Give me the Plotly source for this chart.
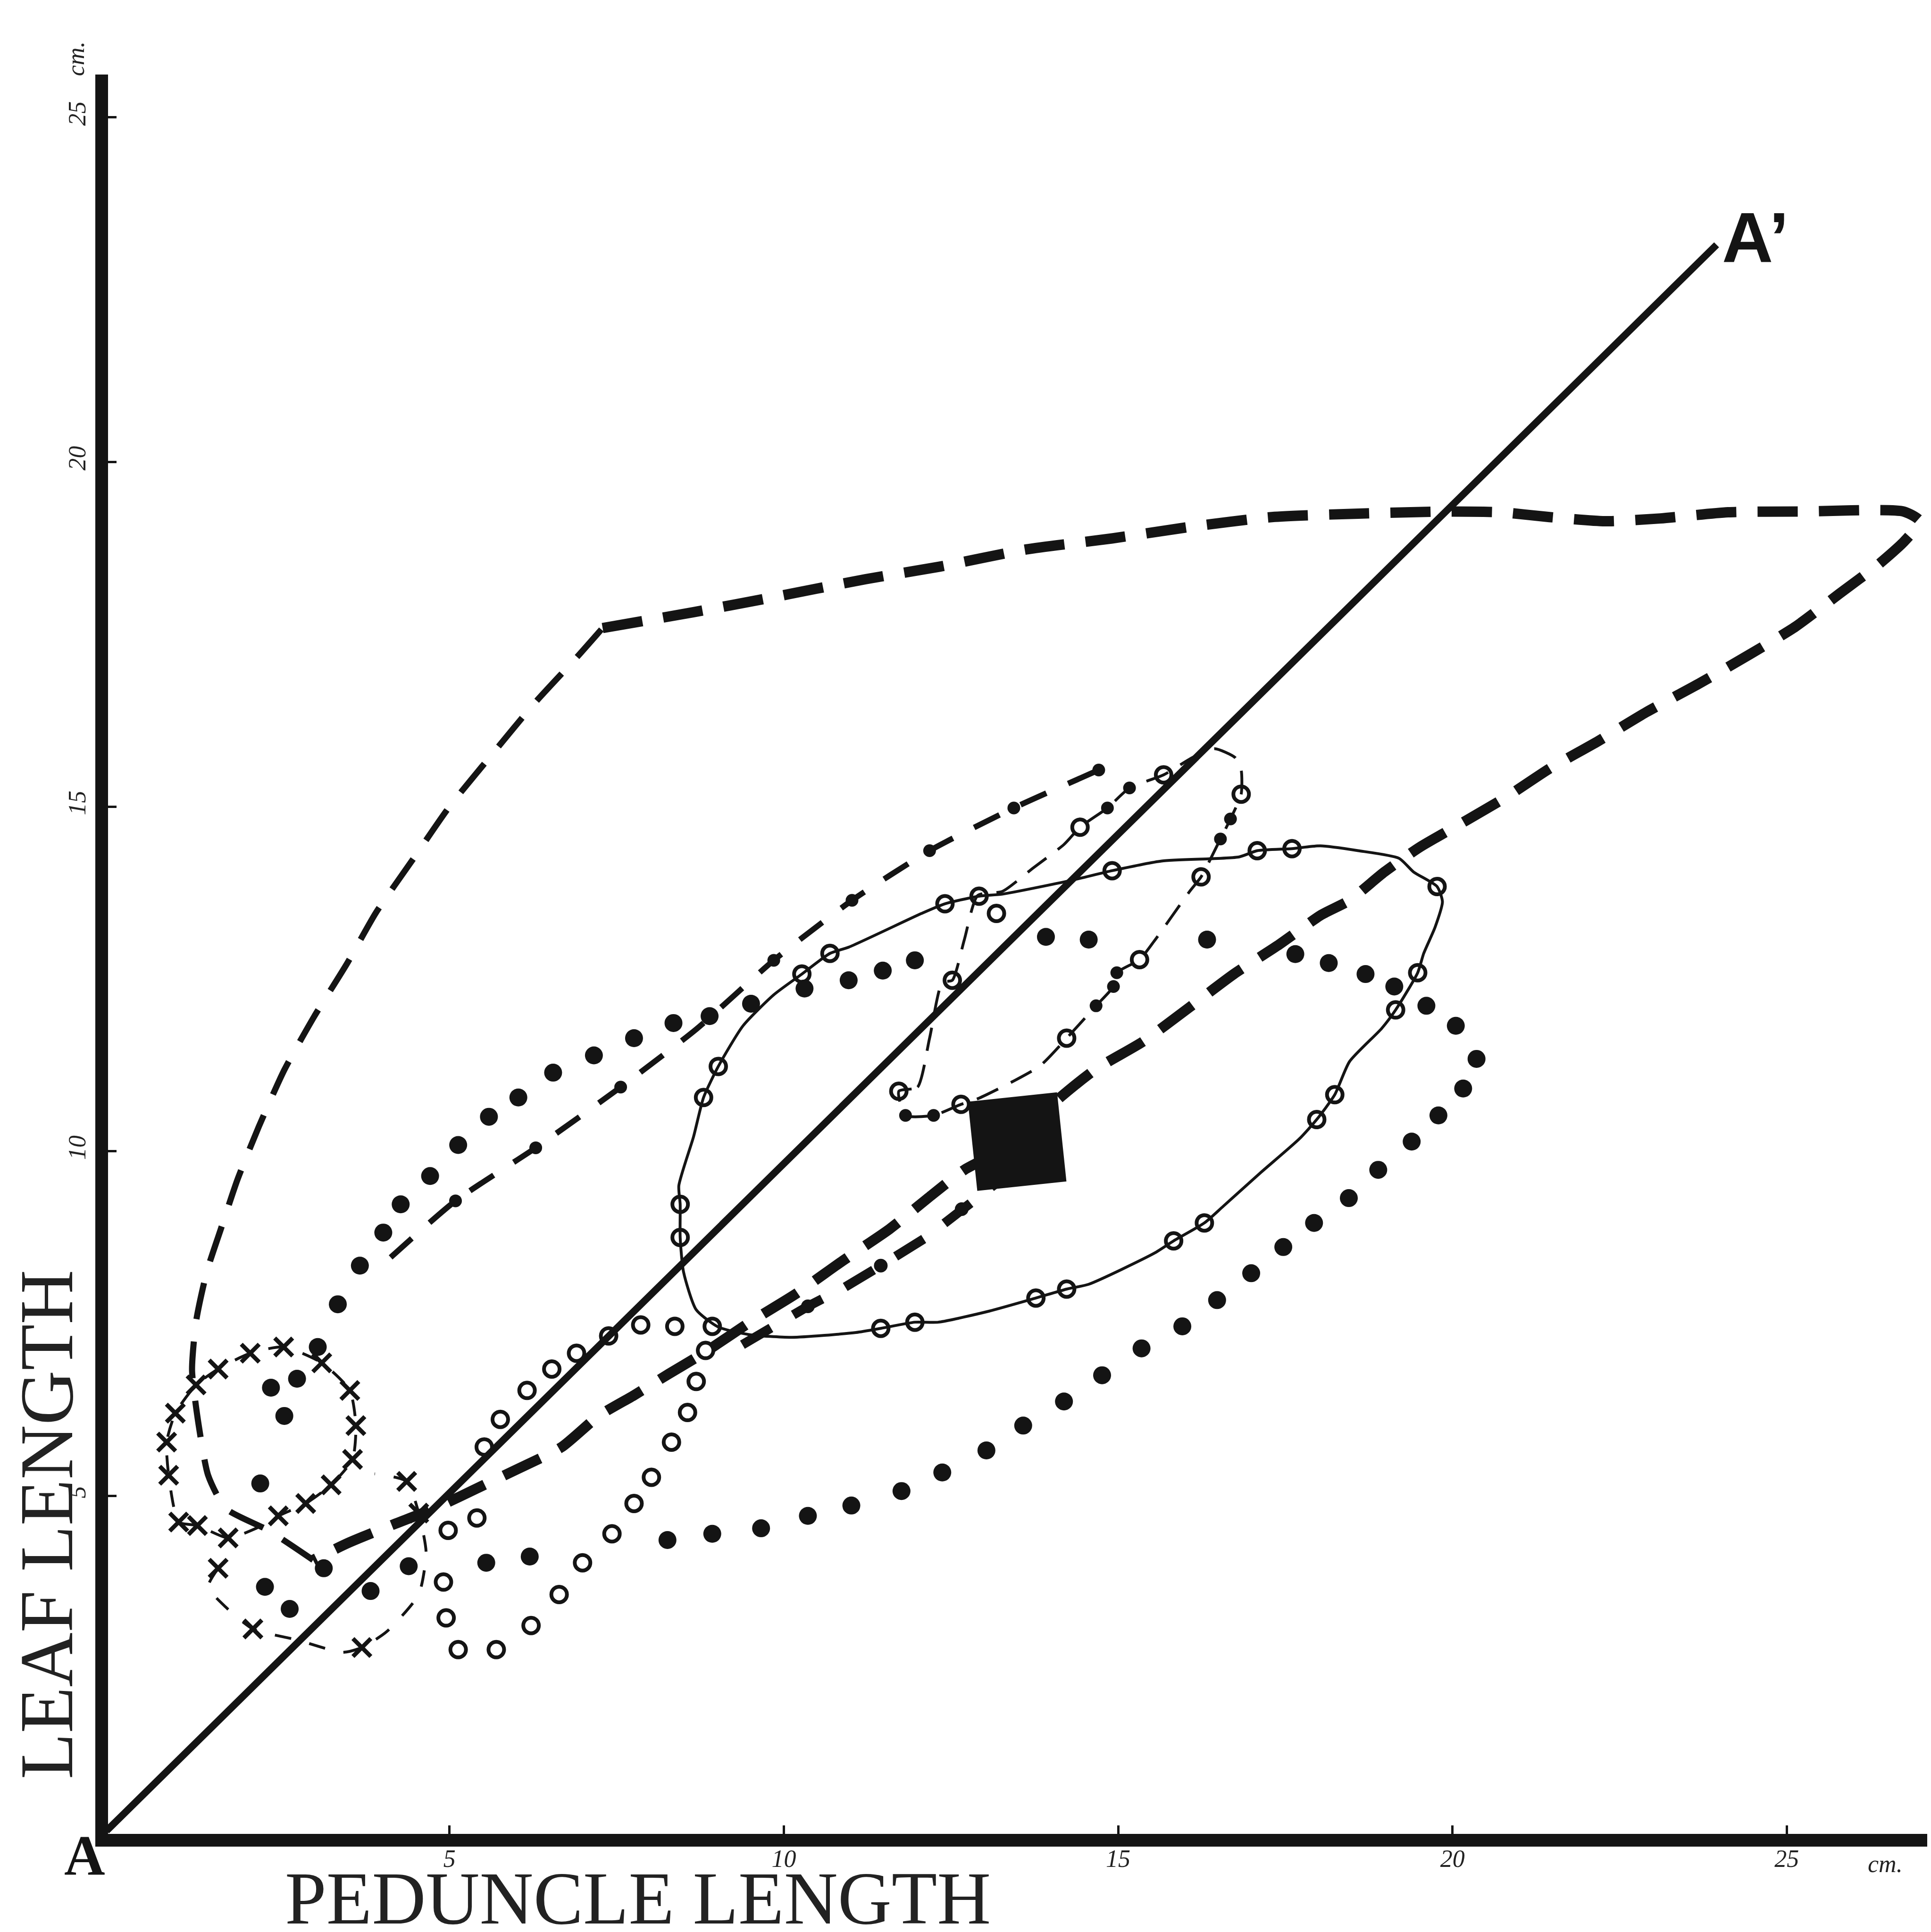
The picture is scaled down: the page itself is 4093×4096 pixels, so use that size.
import plotly.graph_objects as go

# ---------------- axis ticks ----------------
x_tick_vals = [5, 10, 15, 20, 25]
x_tick_text = ["5", "10", "15", "20", "25"]
y_tick_vals = [5, 10, 15, 20, 25]
y_tick_text = ["5", "10", "15", "20", "25"]

# ---------------- reference line A - A' ----------------
aa_x = [-0.13, 23.95]
aa_y = [0.14, 23.15]

# ---------------- outer long-dash loop ----------------
outer_thin_x = [2.96, 2.29, 1.65, 1.39, 1.25, 1.15, 1.21, 1.37, 1.58, 1.83, 2.15, 2.53, 2.98,
                3.46, 3.90, 4.45, 5.00, 5.63, 6.29, 6.88, 7.29]
outer_thin_y = [4.07, 4.50, 4.82, 5.30, 6.02, 6.82, 7.53, 8.25, 8.87, 9.59, 10.36, 11.18, 11.96,
                12.71, 13.46, 14.23, 15.00, 15.75, 16.52, 17.14, 17.59]

outer_heavy_x = [7.29, 8.65, 9.75, 11.23, 12.33, 13.62, 14.91, 16.02, 17.30, 18.59, 19.88, 20.71,
                 21.45, 22.28, 23.11, 24.12, 25.22, 26.75, 26.99, 26.75, 26.38, 25.79, 25.13, 24.45,
                 23.68, 22.90, 22.18, 21.45, 20.84, 20.21, 19.51, 18.98, 18.46, 18.04, 17.38, 16.73,
                 16.07, 15.37, 14.65, 13.99, 13.49, 12.70, 12.22, 11.58, 10.88, 10.18, 9.51, 8.83,
                 8.28, 7.76, 7.23, 6.68, 6.02, 5.52, 4.78, 4.12, 3.49, 2.96]
outer_heavy_y = [17.59, 17.82, 18.02, 18.30, 18.48, 18.73, 18.89, 19.05, 19.20, 19.25, 19.28, 19.27,
                 19.20, 19.14, 19.18, 19.27, 19.28, 19.28, 19.14, 18.84, 18.52, 18.09, 17.61, 17.21,
                 16.78, 16.37, 15.95, 15.55, 15.16, 14.80, 14.41, 14.05, 13.64, 13.43, 12.98, 12.57,
                 12.09, 11.59, 11.18, 10.66, 10.14, 9.73, 9.37, 8.87, 8.41, 7.93, 7.53, 7.09,
                 6.77, 6.46, 6.16, 5.71, 5.39, 5.16, 4.82, 4.57, 4.32, 4.07]

# mean square
square_x = [13.49]
square_y = [10.14]

# ---------------- large-dot loop ----------------
dots_x = [3.33, 3.66, 4.01, 4.27, 4.71, 5.13, 5.59, 6.03, 6.55, 7.16, 7.76, 8.35, 8.89, 9.51,
          10.31, 10.97, 11.48, 11.96, 13.92, 14.56, 16.33, 17.65, 18.15, 18.70, 19.13, 19.61,
          20.05, 20.36, 20.16, 19.79, 19.39, 18.89, 18.45, 17.93, 17.47, 16.99, 16.48, 15.96,
          15.35, 14.76, 14.19, 13.58, 13.03, 12.37, 11.76, 11.01, 10.36, 9.66, 8.93, 8.26,
          6.20, 5.55, 4.39, 3.82, 3.12, 2.61, 2.24, 2.17, 2.53, 2.33, 2.72, 3.03]
dots_y = [7.78, 8.34, 8.82, 9.23, 9.64, 10.09, 10.50, 10.78, 11.14, 11.39, 11.64, 11.86, 11.96, 12.14,
          12.36, 12.48, 12.62, 12.77, 13.11, 13.07, 13.07, 12.86, 12.73, 12.57, 12.39, 12.11,
          11.82, 11.34, 10.91, 10.52, 10.14, 9.73, 9.32, 8.96, 8.61, 8.23, 7.84, 7.46,
          7.14, 6.75, 6.37, 6.02, 5.66, 5.34, 5.07, 4.86, 4.71, 4.53, 4.45, 4.36,
          4.12, 4.03, 3.98, 3.62, 3.95, 3.36, 3.68, 5.18, 6.16, 6.57, 6.70, 7.16]

# ---------------- small circle loop (lower) ----------------
ring_x = [5.52, 5.76, 6.16, 6.53, 6.90, 7.38, 7.86, 8.37, 8.93, 8.83, 8.69, 8.56, 8.32, 8.02,
          7.76, 7.43, 6.99, 6.64, 6.22, 5.70, 5.13, 4.95, 4.91, 4.98, 5.41]
ring_y = [5.71, 6.11, 6.53, 6.84, 7.07, 7.32, 7.48, 7.46, 7.46, 7.11, 6.66, 6.21, 5.78, 5.27,
          4.89, 4.45, 4.03, 3.57, 3.12, 2.77, 2.77, 3.23, 3.75, 4.50, 4.68]

# ---------------- thin line loop with circles ----------------
thin_x = [9.48, 10.12, 11.08, 11.45, 11.96, 12.31, 13.07, 13.77, 14.23, 14.56, 15.54, 15.83, 16.29,
          16.57, 17.12, 17.71, 17.97, 18.24, 18.46, 18.94, 19.15, 19.48, 19.57, 19.74, 19.85,
          19.77, 19.42, 19.20, 18.59, 18.02, 17.60, 17.08, 16.81, 15.65, 14.91, 14.30, 13.27,
          12.92, 12.41, 12.06, 10.97, 10.69, 10.27, 9.85, 9.39, 9.02, 8.80, 8.65, 8.43, 8.45,
          8.45, 8.50, 8.69, 9.02, 9.48]
thin_y = [7.34, 7.30, 7.37, 7.43, 7.52, 7.52, 7.68, 7.87, 8.00, 8.07, 8.52, 8.70, 8.96,
          9.20, 9.68, 10.18, 10.46, 10.82, 11.30, 11.78, 12.05, 12.59, 12.87, 13.25, 13.62,
          13.84, 14.05, 14.25, 14.36, 14.43, 14.39, 14.36, 14.27, 14.21, 14.07, 13.93, 13.73,
          13.70, 13.59, 13.45, 12.96, 12.87, 12.57, 12.27, 11.82, 11.23, 10.78, 10.21, 9.50, 9.23,
          8.75, 8.25, 7.70, 7.45, 7.34]
thin_o_x = [11.45, 11.96, 13.77, 14.23, 15.83, 16.29, 17.97, 18.24, 19.15, 19.48, 19.77, 17.60,
            17.08, 14.91, 12.92, 13.18, 12.41, 10.69, 10.27, 9.02, 8.80, 8.45, 8.45]
thin_o_y = [7.43, 7.52, 7.87, 8.00, 8.70, 8.96, 10.46, 10.82, 12.05, 12.59, 13.84, 14.39,
            14.36, 14.07, 13.70, 13.45, 13.59, 12.87, 12.57, 11.23, 10.78, 9.23, 8.75]

# ---------------- dash-dot upper curve ----------------
dd_up_x = [4.12, 5.09, 6.29, 7.56, 8.69, 9.85, 11.02, 12.18, 13.44, 14.71]
dd_up_y = [8.46, 9.28, 10.05, 10.93, 11.77, 12.77, 13.64, 14.36, 14.98, 15.53]
dd_up_dot_x = [5.09, 6.29, 7.56, 9.85, 11.02, 12.18, 13.44, 14.71]
dd_up_dot_y = [9.28, 10.05, 10.93, 12.77, 13.64, 14.36, 14.98, 15.53]

# ---------------- heavy dash-dot lower row ----------------
dd_lo_x = [13.49, 12.66, 12.13, 11.45, 10.90, 10.36, 9.75, 9.20]
dd_lo_y = [9.77, 9.16, 8.75, 8.34, 8.02, 7.75, 7.39, 7.09]
dd_lo_dot_x = [12.66, 11.45, 10.36]
dd_lo_dot_y = [9.16, 8.34, 7.75]

# ---------------- small mixed loop around the mean ----------------
mix_x = [11.72, 12.00, 12.18, 12.37, 12.52, 12.70, 12.90, 13.27, 13.73, 14.19, 14.43, 14.84,
         15.17, 15.68, 16.11, 16.44, 16.75, 16.84, 16.84, 16.68, 16.53, 16.24, 16.07, 15.54,
         15.32, 14.98, 14.93, 14.67, 14.23, 13.82, 12.92, 12.65, 12.24, 11.82, 11.72]
mix_y = [10.87, 10.93, 11.64, 12.45, 12.48, 13.07, 13.71, 13.77, 14.11, 14.45, 14.70, 14.98,
         15.27, 15.46, 15.71, 15.84, 15.71, 15.53, 15.18, 14.82, 14.53, 13.98, 13.77, 13.05,
         12.78, 12.59, 12.39, 12.11, 11.64, 11.23, 10.77, 10.68, 10.52, 10.52, 10.87]
mix_o_x = [11.72, 12.65, 12.52, 14.43, 15.68, 16.84, 16.24, 15.32, 14.23]
mix_o_y = [10.87, 10.68, 12.48, 14.70, 15.46, 15.18, 13.98, 12.78, 11.64]
mix_dot_x = [12.24, 11.82, 14.84, 15.17, 16.68, 16.53, 14.98, 14.93, 14.67]
mix_dot_y = [10.52, 10.52, 14.98, 15.27, 14.82, 14.53, 12.59, 12.39, 12.11]

# ---------------- cross loop ----------------
cross_a_x = [1.69, 1.23, 0.95, 0.80, 0.77, 0.90, 1.21, 1.54, 2.02, 2.52, 3.09, 3.51, 3.60, 3.55,
             3.23, 2.85, 2.44, 2.11, 1.69]
cross_a_y = [4.39, 4.57, 4.62, 5.30, 5.78, 6.20, 6.61, 6.84, 7.07, 7.16, 6.93, 6.53, 6.02, 5.53,
             5.16, 4.89, 4.71, 4.53, 4.39]
cross_b_x = [1.54, 1.39, 1.65, 2.06, 2.72, 3.40, 3.69, 4.06, 4.54, 4.65, 4.54, 4.36, 3.88]
cross_b_y = [3.95, 3.68, 3.39, 3.07, 2.91, 2.73, 2.80, 3.03, 3.57, 4.18, 4.75, 5.21, 5.32]
cross_mk_x = [1.69, 1.23, 0.95, 0.80, 0.77, 0.90, 1.21, 1.54, 2.02, 2.52, 3.09, 3.51, 3.60, 3.55,
              3.23, 2.85, 2.44, 1.54, 2.06, 3.69, 4.54, 4.36]
cross_mk_y = [4.39, 4.57, 4.62, 5.30, 5.78, 6.20, 6.61, 6.84, 7.07, 7.16, 6.93, 6.53, 6.02, 5.53,
              5.16, 4.89, 4.71, 3.95, 3.07, 2.80, 4.75, 5.21]

INK = "#141414"

fig = go.Figure()


def line(x, y, width, dash="solid", shape="spline"):
    fig.add_trace(go.Scatter(x=x, y=y, mode="lines", hoverinfo="skip",
                             line=dict(color=INK, width=width, dash=dash, shape=shape, smoothing=0.6)))


def marks(x, y, symbol, size, lw=0, angle=0):
    fig.add_trace(go.Scatter(x=x, y=y, mode="markers", hoverinfo="skip", cliponaxis=False,
                             marker=dict(symbol=symbol, size=size, color=INK, angle=angle,
                                         line=dict(color=INK, width=lw))))


line(aa_x, aa_y, 15, shape="linear")
line(outer_thin_x, outer_thin_y, 13, dash="78px,48px")
line(outer_heavy_x, outer_heavy_y, 22, dash="85px,45px")
line(thin_x, thin_y, 6)
line(dd_up_x, dd_up_y, 12, dash="60px,50px")
line(dd_lo_x, dd_lo_y, 20, dash="70px,55px", shape="linear")
line(mix_x, mix_y, 6, dash="50px,30px")
line(cross_a_x, cross_a_y, 6, dash="35px,40px")
line(cross_b_x, cross_b_y, 6, dash="35px,40px")

marks(square_x, square_y, "square", 190, angle=-6)
marks(dots_x, dots_y, "circle", 38)
marks(ring_x, ring_y, "circle-open", 33, 8)
marks(thin_o_x, thin_o_y, "circle-open", 33, 8)
marks(dd_up_dot_x, dd_up_dot_y, "circle", 27)
marks(dd_lo_dot_x, dd_lo_dot_y, "circle", 29)
marks(mix_o_x, mix_o_y, "circle-open", 33, 8)
marks(mix_dot_x, mix_dot_y, "circle", 27)
marks(cross_mk_x, cross_mk_y, "x-thin-open", 38, 9)

tickfont = dict(family="Liberation Serif", size=52, color="#222", style="italic")

fig.update_layout(
    width=4093, height=4096,
    margin=dict(l=221, r=3, t=150, b=216, pad=0),
    paper_bgcolor="white", plot_bgcolor="white",
    showlegend=False,
    xaxis=dict(range=[-0.1065, 27.192], showgrid=False, zeroline=False,
               showline=True, linecolor=INK, linewidth=27,
               ticks="inside", ticklen=18, tickwidth=5, tickcolor=INK,
               tickmode="array", tickvals=x_tick_vals, ticktext=x_tick_text,
               ticklabelstandoff=-19, tickfont=tickfont),
    yaxis=dict(range=[0.0965, 25.62], showgrid=False, zeroline=False,
               showline=True, linecolor=INK, linewidth=27,
               ticks="inside", ticklen=18, tickwidth=5, tickcolor=INK,
               tickmode="array", tickvals=y_tick_vals, ticktext=y_tick_text,
               tickangle=-90, tickfont=tickfont),
    annotations=[
        dict(text="PEDUNCLE LENGTH", xref="paper", yref="paper", x=0.2903, y=-0.0365,
             xanchor="center", yanchor="middle", showarrow=False,
             font=dict(family="Liberation Serif", size=158, color="#222")),
        dict(text="LEAF LENGTH", xref="paper", yref="paper", x=-0.0336, y=0.1759,
             xanchor="center", yanchor="middle", showarrow=False, textangle=-90,
             font=dict(family="Liberation Serif", size=160, color="#222")),
        dict(text="A", xref="paper", yref="paper", x=-0.0129, y=-0.0121,
             xanchor="center", yanchor="middle", showarrow=False,
             font=dict(family="Liberation Serif", size=120, color=INK, weight="bold")),
        dict(text="A\u2019", xref="paper", yref="paper", x=(3640 - 221) / 3869, y=(3880 - 495) / 3730,
             xanchor="left", yanchor="middle", showarrow=False,
             font=dict(family="Liberation Sans", size=150, color=INK, weight="bold")),
        dict(text="cm.", xref="paper", yref="paper", x=0.9736, y=-0.017,
             xanchor="center", yanchor="middle", showarrow=False,
             font=tickfont),
        dict(text="cm.", xref="paper", yref="paper", x=-0.0176, y=1.009,
             xanchor="center", yanchor="middle", showarrow=False, textangle=-90,
             font=tickfont),
    ],
)

fig.write_html("out.html")
